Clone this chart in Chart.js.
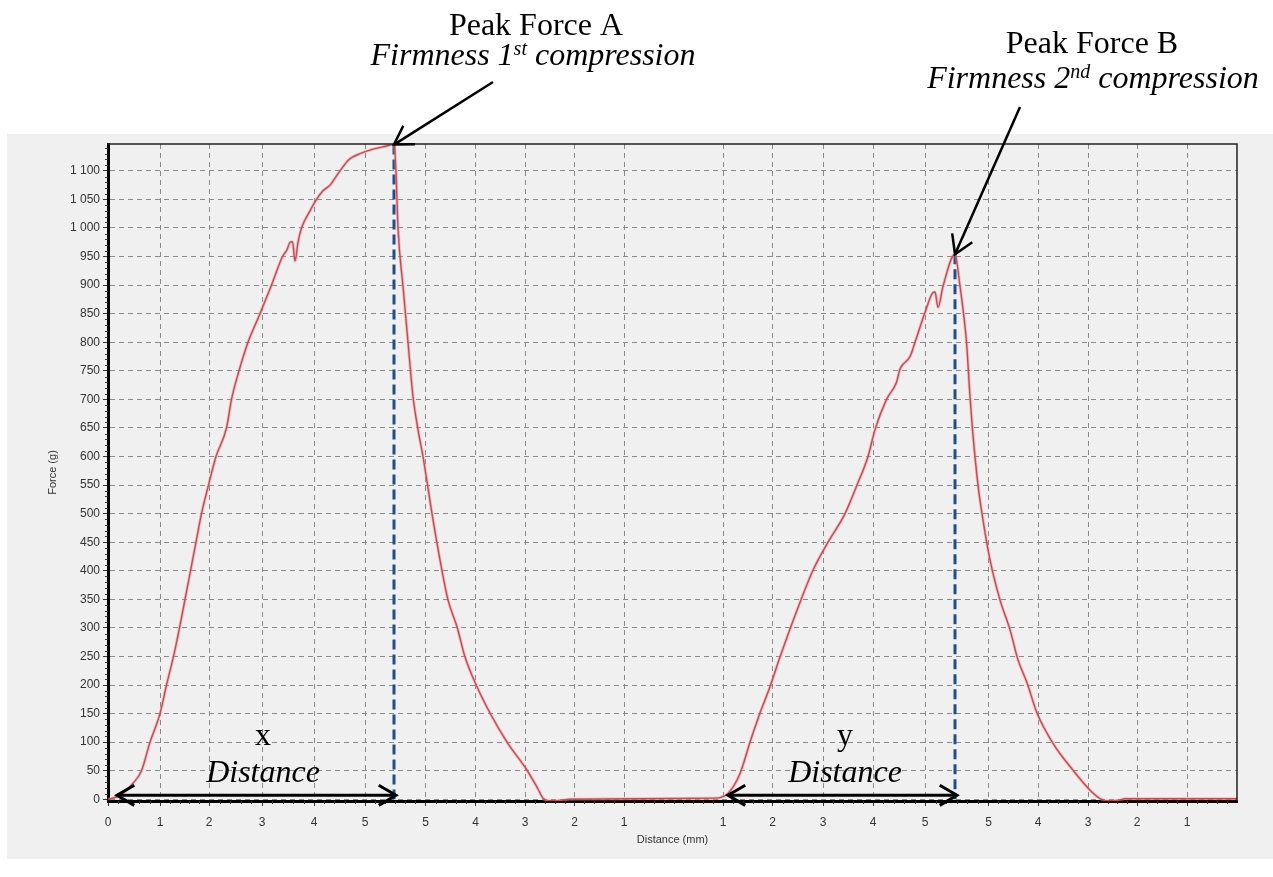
<!DOCTYPE html>
<html><head><meta charset="utf-8">
<script src="https://cdn.jsdelivr.net/npm/chart.js@4"></script>
<style>html,body{margin:0;padding:0;background:#fff;}canvas{display:block;}</style>
</head><body>
<canvas id="c" width="1273" height="877"></canvas>
<script>
// Sequence position along the test (mm of travel, concatenated phases)
const xPos = [0,0.17,0.35,0.5,0.67,0.84,1.04,1.17,1.31,1.43,1.54,1.65,1.76,1.87,2.01,2.16,2.37,2.47,2.62,2.8,3.04,3.27,3.49,3.58,3.64,3.69,3.74,3.8,3.87,4.04,4.17,4.3,4.44,4.56,4.64,4.82,5.04,5.3,5.5,5.72,
  5.76,5.8,5.9,6.0,6.1,6.2,6.3,6.48,6.64,6.8,6.98,7.14,7.38,7.64,7.98,8.38,8.6,8.7,8.84,9.04,9.24,12.14,
  12.24,12.4,12.64,12.84,13.04,13.24,13.44,13.78,14.1,14.4,14.74,14.98,15.2,15.34,15.57,15.77,15.84,16.04,16.14,16.34,16.5,16.54,16.6,16.7,16.94,
  17.04,17.1,17.17,17.24,17.29,17.4,17.48,17.64,17.84,18.04,18.2,18.38,18.58,18.9,19.3,19.64,19.87,20.04,20.24,20.34,22.58];
// Force (g)
const forceG = [0,4,14,28,50,100,150,200,250,300,350,400,450,500,550,600,650,700,750,800,850,900,950,962,975,976,942,975,1000,1030,1050,1065,1075,1090,1100,1120,1130,1138,1142,1146,
  1098,1000,898,800,705,647,600,500,419,349,302,249,197,151,100,51,18,2,-3,-2,0,2,
  3,10,45,100,151,197,249,331,401,450,500,550,600,647,700,730,753,775,800,852,887,888,861,898,954,
  898,858,800,705,647,550,500,419,349,297,244,204,151,98,51,16,0,-3,-1,1,1];
const xTickPos = [0,1.04,2.02,3.08,4.12,5.14,6.35,7.35,8.34,9.33,10.32,12.3,13.29,14.3,15.3,16.34,17.61,18.6,19.6,20.58,21.58];
const xTickLabels = ['0','1','2','3','4','5','5','4','3','2','1','1','2','3','4','5','5','4','3','2','1'];
const yTickVals = [0,50,100,150,200,250,300,350,400,450,500,550,600,650,700,750,800,850,900,950,1000,1050,1100];
const spanStart = [0.18, 12.4];
const spanLetters = ['x', 'y'];

const pts = xPos.map((x, i) => ({x, y: forceG[i]}));
function peakIn(lo, hi) {
  let best = null;
  pts.forEach(p => { if (p.x >= lo && p.x <= hi && (!best || p.y > best.y)) best = p; });
  return best;
}
const peakA = peakIn(0, 11), peakB = peakIn(11, 23);

const fmt = v => String(v).replace(/\B(?=(\d{3})+(?!\d))/g, ' ');
const SERIF = '"Liberation Serif", "Times New Roman", serif';
const SANS = '"Liberation Sans", Arial, sans-serif';

function arrowHead(ctx, tx, ty, fx, fy, len, half) {
  const ang = Math.atan2(fy - ty, fx - tx);
  ctx.beginPath();
  ctx.moveTo(tx + len * Math.cos(ang - half), ty + len * Math.sin(ang - half));
  ctx.lineTo(tx, ty);
  ctx.lineTo(tx + len * Math.cos(ang + half), ty + len * Math.sin(ang + half));
  ctx.stroke();
}
function drawParts(ctx, parts, cx, base) {
  let total = 0;
  parts.forEach(p => { ctx.font = (p.it ? 'italic ' : '') + p.s + 'px ' + SERIF; p.w = ctx.measureText(p.t).width; total += p.w; });
  let x = cx - total / 2;
  ctx.textAlign = 'left'; ctx.textBaseline = 'alphabetic';
  parts.forEach(p => { ctx.font = (p.it ? 'italic ' : '') + p.s + 'px ' + SERIF; ctx.fillText(p.t, x, base - (p.r || 0)); x += p.w; });
}

const bgPlugin = {
  id: 'bg',
  beforeDraw(chart) {
    const {ctx, width, height} = chart;
    ctx.save();
    ctx.fillStyle = '#ffffff'; ctx.fillRect(0, 0, width, height);
    ctx.fillStyle = '#f0f0f0'; ctx.fillRect(7, 134, width - 7, 725);
    ctx.restore();
  }
};

const annoPlugin = {
  id: 'anno',
  afterDraw(chart) {
    const {ctx, chartArea: ca} = chart;
    const xs = chart.scales.x, ys = chart.scales.y;
    ctx.save();
    // top and right frame
    ctx.strokeStyle = '#222'; ctx.lineWidth = 1.5;
    ctx.beginPath(); ctx.moveTo(ca.left, ca.top); ctx.lineTo(ca.right, ca.top); ctx.lineTo(ca.right, ca.bottom); ctx.stroke();
    // minor ticks
    ctx.strokeStyle = '#333'; ctx.lineWidth = 1;
    for (let i = 0; i < xTickPos.length; i++) {
      const pa = xs.getPixelForValue(xTickPos[i]);
      const pb = xs.getPixelForValue(i + 1 < xTickPos.length ? xTickPos[i + 1] : xs.max);
      const n = Math.max(1, Math.round((pb - pa) / 10));
      for (let k = 1; k < n; k++) {
        const px = Math.round(pa + (pb - pa) * k / n) + 0.5;
        ctx.beginPath(); ctx.moveTo(px, ca.bottom); ctx.lineTo(px, ca.bottom + 3); ctx.stroke();
      }
    }
    for (let v = 10; v < ys.max; v += 10) {
      if (v % 50 === 0) continue;
      const py = Math.round(ys.getPixelForValue(v)) + 0.5;
      ctx.beginPath(); ctx.moveTo(ca.left - 3, py); ctx.lineTo(ca.left, py); ctx.stroke();
    }
    // annotation text
    ctx.fillStyle = '#000';
    drawParts(ctx, [{t: 'Peak Force A', s: 32}], 536, 35);
    drawParts(ctx, [{t: 'Firmness 1', s: 32, it: 1}, {t: 'st', s: 20, it: 1, r: 10}, {t: ' compression', s: 32, it: 1}], 533, 65);
    drawParts(ctx, [{t: 'Peak Force B', s: 32}], 1092, 53);
    drawParts(ctx, [{t: 'Firmness 2', s: 32, it: 1}, {t: 'nd', s: 20, it: 1, r: 10}, {t: ' compression', s: 32, it: 1}], 1093, 88);
    // peak arrows
    ctx.strokeStyle = '#000'; ctx.lineWidth = 2.5; ctx.lineCap = 'butt';
    const pa = {x: xs.getPixelForValue(peakA.x), y: ys.getPixelForValue(peakA.y)};
    const pb = {x: xs.getPixelForValue(peakB.x), y: ys.getPixelForValue(peakB.y)};
    [[493, 82, pa], [1020, 107, pb]].forEach(([sx, sy, t]) => {
      ctx.beginPath(); ctx.moveTo(sx, sy); ctx.lineTo(t.x, t.y); ctx.stroke();
      arrowHead(ctx, t.x, t.y, sx, sy, 21, 0.55);
    });
    // distance spans
    const ay = ys.getPixelForValue(7);
    const centers = [263, 845];
    [[spanStart[0], peakA.x], [spanStart[1], peakB.x]].forEach(([a, b], i) => {
      const x1 = xs.getPixelForValue(a), x2 = xs.getPixelForValue(b) + 2;
      ctx.lineWidth = 3;
      ctx.beginPath(); ctx.moveTo(x1, ay); ctx.lineTo(x2, ay); ctx.stroke();
      arrowHead(ctx, x1, ay, x2, ay, 20, 0.53);
      arrowHead(ctx, x2, ay, x1, ay, 20, 0.53);
      drawParts(ctx, [{t: spanLetters[i], s: 32}], centers[i], 745);
      drawParts(ctx, [{t: 'Distance', s: 32, it: 1}], centers[i], 782);
    });
    ctx.restore();
  }
};

const gridOpts = {color: '#8a8a8a', lineWidth: 1, tickLength: 5, tickColor: '#333', drawTicks: true};

new Chart(document.getElementById('c'), {
  type: 'scatter',
  data: {
    datasets: [
      {data: pts, showLine: true, borderColor: 'rgba(235,130,135,0.45)', borderWidth: 3, pointRadius: 0, cubicInterpolationMode: 'monotone'},
      {data: pts, showLine: true, borderColor: '#b8141e', borderWidth: 1.4, pointRadius: 0, cubicInterpolationMode: 'monotone'},
      {data: [{x: peakA.x, y: peakA.y}, {x: peakA.x, y: 0}], showLine: true, borderColor: '#1f4e8c', borderWidth: 3, borderDash: [10, 5], pointRadius: 0},
      {data: [{x: peakB.x, y: peakB.y}, {x: peakB.x, y: 0}], showLine: true, borderColor: '#1f4e8c', borderWidth: 3, borderDash: [10, 5], pointRadius: 0}
    ]
  },
  options: {
    responsive: false, animation: false, devicePixelRatio: 1,
    layout: {padding: {left: 8, right: 36, top: 144, bottom: 20}},
    plugins: {legend: {display: false}, tooltip: {enabled: false}},
    scales: {
      x: {
        type: 'linear', min: 0, max: 22.58,
        afterBuildTicks: s => { s.ticks = xTickPos.map(v => ({value: v})); },
        afterFit: s => { s.height = 56; },
        ticks: {autoSkip: false, maxRotation: 0, color: '#333', padding: 9, font: {family: SANS, size: 12},
          callback: (v, i) => xTickLabels[i]},
        grid: gridOpts,
        border: {display: true, color: '#000', width: 3, dash: [5, 4]},
        title: {display: true, text: 'Distance (mm)', color: '#333', font: {family: SANS, size: 11}, padding: {top: 0, bottom: 10}}
      },
      y: {
        type: 'linear', min: -3, max: 1147,
        afterBuildTicks: s => { s.ticks = yTickVals.map(v => ({value: v})); },
        afterFit: s => { s.width = 100; },
        ticks: {color: '#333', padding: 3, font: {family: SANS, size: 12}, callback: v => fmt(v)},
        grid: gridOpts,
        border: {display: true, color: '#000', width: 3, dash: [5, 4]},
        title: {display: true, text: 'Force (g)', color: '#333', font: {family: SANS, size: 11}, padding: {top: 38, bottom: 0}}
      }
    }
  },
  plugins: [bgPlugin, annoPlugin]
});
</script>
</body></html>
